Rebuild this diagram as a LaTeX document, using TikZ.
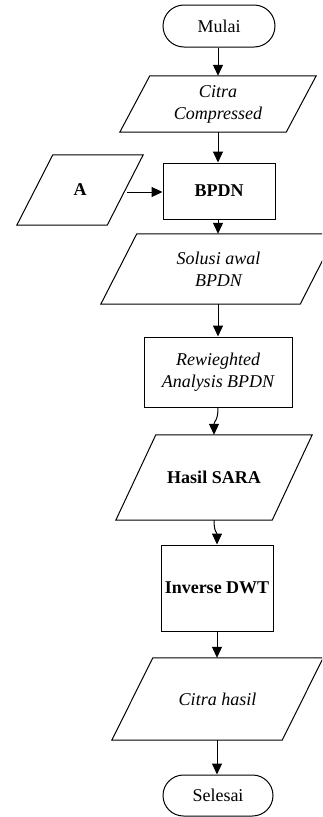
\documentclass[tikz,border=0pt]{standalone}
\usepackage{fontspec}
\setmainfont{Liberation Serif}
\usetikzlibrary{arrows.meta,shapes.misc}
\tikzset{
  line/.style={line width=1pt, draw=black},
  arr/.style={line, -{Triangle[length=11pt,width=10pt]}},
  term/.style={rounded rectangle, line, inner sep=0pt, font=\fontsize{18}{22}\selectfont},
  procbox/.style={rectangle, line, inner sep=0pt, align=center, font=\fontsize{18}{22}\selectfont},
  iobox/.style={rectangle, inner sep=0pt, align=center, font=\fontsize{18}{22}\selectfont},
}
\newcommand\paradraw[2]{\draw[line] ([xshift=#2]#1.north west) -- (#1.north east) -- ([xshift=-#2]#1.south east) -- (#1.south west) -- cycle;}
\begin{document}
\begin{tikzpicture}[x=1pt,y=-1pt]
\useasboundingbox (0,0) rectangle (322,817);
\clip (0,0) rectangle (322,817);
\fill[white] (0,0) rectangle (322,817);

\node[term, minimum width=112pt, minimum height=42pt] (mulai) at (219,26) {Mulai};
\node[iobox, minimum width=196pt, minimum height=56pt] (cc) at (218,104) {\itshape Citra\\\itshape Compressed};
\paradraw{cc}{30pt}
\node[procbox, minimum width=112pt, minimum height=56pt] (bpdn) at (219,191) {\bfseries BPDN};
\node[iobox, minimum width=126pt, minimum height=70pt] (a) at (80,190) {\bfseries A};
\paradraw{a}{36pt}
\node[iobox, minimum width=235pt, minimum height=70pt] (sol) at (218.5,269) {\itshape Solusi awal\\\itshape BPDN};
\paradraw{sol}{36pt}
\node[procbox, minimum width=148pt, minimum height=70pt] (rw) at (218,372) {\itshape Rewieghted\\\itshape Analysis BPDN};
\node[iobox, minimum width=196pt, minimum height=85pt] (hs) at (214,477.5) {\bfseries Hasil SARA};
\paradraw{hs}{40pt}
\node[procbox, minimum width=112pt, minimum height=86pt] (inv) at (217,588) {\bfseries Inverse DWT};
\node[iobox, minimum width=211pt, minimum height=82pt] (ch) at (217.5,699) {\itshape Citra hasil};
\paradraw{ch}{41pt}
\node[term, minimum width=110pt, minimum height=41pt] (sel) at (218,795.5) {Selesai};

\coordinate (astart) at (127,192);
\draw[arr] (mulai.south -| 218,0) -- (cc.north -| 218,0);
\draw[arr] (cc.south -| 218,0) -- (bpdn.north -| 218,0);
\draw[arr] (astart) -- (bpdn.west |- astart);
\draw[arr] (bpdn.south -| 218,0) -- (sol.north -| 218,0);
\draw[arr] (sol.south -| 218,0) -- (rw.north -| 218,0);
\draw[arr] (rw.south) .. controls +(0,14) and +(0,-14) .. (hs.north);
\draw[arr] (hs.south) .. controls +(0,12) and +(0,-12) .. (inv.north);
\draw[arr] (inv.south) -- (ch.north -| inv.south);
\draw[arr] (ch.south -| inv.south) -- (sel.north -| inv.south);
\end{tikzpicture}
\end{document}
